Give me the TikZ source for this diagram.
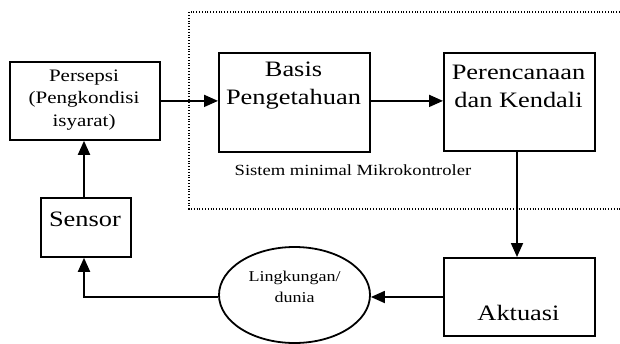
\documentclass[tikz,border=0pt]{standalone}
\usepackage{fontspec}
\setmainfont{Liberation Serif}[FakeStretch=1.2]
\usetikzlibrary{arrows.meta,shapes.geometric}
\begin{document}
\begin{tikzpicture}[x=1pt,y=-1pt,
  box/.style={draw,line width=1.8pt,rectangle,inner sep=0pt,anchor=north west},
  lbl/.style={align=center,inner sep=0pt},
  conn/.style={line width=1.8pt,-{Triangle[length=14pt,width=12pt]}},
  big/.style={font=\fontsize{22}{28}\selectfont},
  mid/.style={font=\fontsize{17.5}{22.5}\selectfont},
  small/.style={font=\fontsize{15}{21}\selectfont}]
\useasboundingbox (0,0) rectangle (620,343);
% dotted region
\draw[line width=1.4pt,dash pattern=on 1pt off 1.8pt] (620,12) -- (189,12) -- (189,209) -- (620,209);
\node[lbl,font=\fontsize{15.5}{18}\selectfont] (sys) at (353,170) {Sistem minimal Mikrokontroler};
% boxes
\node[box,minimum width=150pt,minimum height=78pt] (pers) at (9,61) {};
\node[lbl,mid] (perst) at (84,100) {Persepsi\\(Pengkondisi\\isyarat)};
\node[box,minimum width=151pt,minimum height=99pt] (basis) at (218,52) {};
\node[lbl,big] (basist) at (293.5,86) {Basis\\Pengetahuan};
\node[box,minimum width=151pt,minimum height=98pt] (renc) at (443,52) {};
\node[lbl,big] (renct) at (518.5,86) {Perencanaan\\dan Kendali};
\node[box,minimum width=90pt,minimum height=59pt] (sens) at (40,197) {};
\node[lbl,big] (senst) at (85,219) {Sensor};
\node[box,minimum width=151pt,minimum height=78pt] (akt) at (443,257) {};
\node[lbl,big] (aktt) at (518.5,313) {Aktuasi};
\node[draw,line width=1.8pt,ellipse,minimum width=151pt,minimum height=96pt,inner sep=0pt] (env) at (294.5,295) {};
\node[lbl,small] (envt) at (294.5,287) {Lingkungan/\\dunia};
% connectors
\draw[conn] (pers.east) -- (basis.west |- pers.east);
\draw[conn] (basis.east |- pers.east) -- (renc.west |- pers.east);
\draw[conn] (renc.south -| 517,0) -- (akt.north -| 517,0);
\coordinate (c1) at (84,297);
\draw[conn] (akt.west |- c1) -- (env.east |- c1);
\draw[conn] (env.west |- c1) -- (c1) -- (sens.south -| c1);
\draw[conn] (sens.north -| c1) -- (pers.south -| c1);
\end{tikzpicture}
\end{document}
